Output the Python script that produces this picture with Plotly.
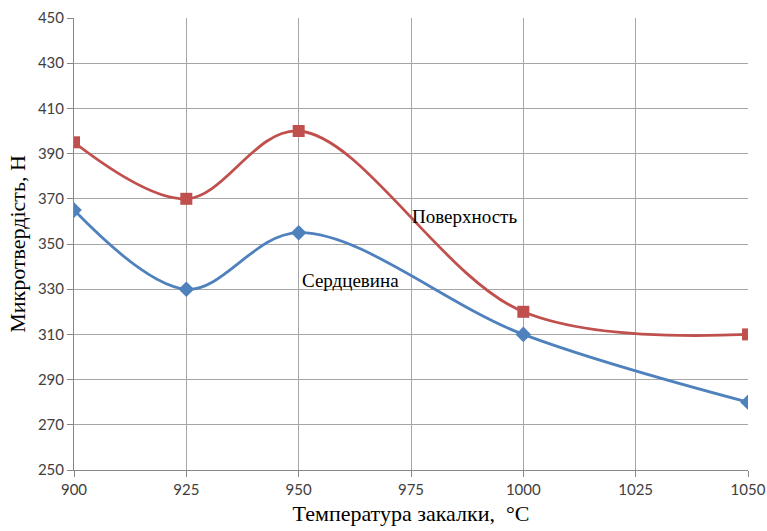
import plotly.graph_objects as go

temps = [900, 925, 950, 1000, 1050]
surface = [395, 370, 400, 320, 310]
core = [365, 330, 355, 310, 280]
x_ticks = [900, 925, 950, 975, 1000, 1025, 1050]
y_ticks = list(range(250, 451, 20))

fig = go.Figure()
fig.add_trace(go.Scatter(x=temps, y=core, mode="lines+markers", name="Сердцевина",
                         line=dict(color="#4F81BD", width=2.8, shape="spline", smoothing=1),
                         marker=dict(symbol="diamond", size=12, color="#4F81BD")))
fig.add_trace(go.Scatter(x=temps, y=surface, mode="lines+markers", name="Поверхность",
                         line=dict(color="#C0504D", width=2.8, shape="spline", smoothing=1),
                         marker=dict(symbol="square", size=12, color="#C0504D")))

fig.add_annotation(x=974.8, y=362, text="Поверхность", showarrow=False, xanchor="left",
                   font=dict(family="Liberation Serif", size=19, color="black"))
fig.add_annotation(x=950.3, y=334, text="Сердцевина", showarrow=False, xanchor="left",
                   font=dict(family="Liberation Serif", size=19, color="black"))

fig.update_layout(
    width=767, height=531,
    margin=dict(l=74, r=19, t=18, b=61),
    paper_bgcolor="white", plot_bgcolor="white",
    showlegend=False,
    font=dict(family="Lato", size=15, color="#404040"),
)
fig.update_xaxes(range=[900, 1050], tickvals=x_ticks, showgrid=True, gridcolor="#A6A6A6", gridwidth=1,
                 showline=True, linecolor="#868686", ticks="outside", ticklen=6, tickcolor="#868686",
                 zeroline=False, automargin=False,
                 title=dict(text="Температура закалки,  °C", standoff=8,
                            font=dict(family="Liberation Serif", size=22, color="black")))
fig.update_yaxes(range=[250, 450], tickvals=y_ticks, showgrid=True, gridcolor="#A6A6A6", gridwidth=1,
                 showline=True, linecolor="#868686", ticks="outside", ticklen=6, tickcolor="#868686",
                 zeroline=False, automargin=False,
                 title=dict(text="Микротвердість, Н", standoff=6,
                            font=dict(family="Liberation Serif", size=22, color="black")))

fig.write_html("out.html", config={"displayModeBar": False},
               post_script="document.body.style.margin='0';document.body.style.overflow='hidden';")
